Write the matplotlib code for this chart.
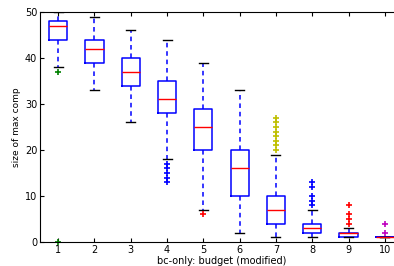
import matplotlib
matplotlib.use("Agg")
import matplotlib.pyplot as plt

budgets = [1, 2, 3, 4, 5, 6, 7, 8, 9, 10]
medians = [47, 42, 37, 31, 25, 16, 7, 3, 2, 1]
q1 = [44, 39, 34, 28, 20, 10, 4, 2, 1, 1]
q3 = [48, 44, 40, 35, 29, 20, 10, 4, 2, 1]
whis_lo = [38, 33, 26, 18, 7, 2, 1, 1, 1, 1]
whis_hi = [50, 49, 46, 44, 39, 33, 19, 7, 3, 1]
fliers = [
    [37, 0],
    [],
    [],
    [17, 16, 15, 14, 13],
    [6],
    [],
    [20, 21, 22, 23, 24, 25, 26, 27],
    [8, 9, 10, 12, 13],
    [4, 5, 6, 8],
    [2, 4],
]
flier_colors = ["g", "b", "b", "b", "r", "b", "y", "b", "r", "m"]

stats = []
for i in range(len(budgets)):
    stats.append({
        "med": medians[i], "q1": q1[i], "q3": q3[i],
        "whislo": whis_lo[i], "whishi": whis_hi[i],
        "fliers": fliers[i], "label": str(budgets[i]),
    })

fig = plt.figure(figsize=(3.94, 2.66), dpi=100)
ax = fig.add_axes([40 / 394, 24 / 266, 363 / 394, 230 / 266])

bp = ax.bxp(
    stats, positions=budgets, widths=0.5,
    boxprops=dict(color="blue", linewidth=1.1),
    medianprops=dict(color="red", linewidth=1.0),
    whiskerprops=dict(color="blue", linewidth=1.1, linestyle=(0, (3, 2.5))),
    capprops=dict(color="black", linewidth=1.0),
    flierprops=dict(marker="+", markersize=4, markeredgewidth=1.2, linestyle="none"),
)
for line, c in zip(bp["fliers"], flier_colors):
    line.set_markeredgecolor(c)
    line.set_clip_on(False)

ax.set_xlim(0.5, 10.5)
ax.set_ylim(0, 50)
ax.set_yticks([0, 10, 20, 30, 40, 50])
ax.tick_params(direction="in", top=True, right=True, labelsize=7, length=3, pad=2)
ax.set_xlabel("bc-only: budget (modified)", fontsize=7, labelpad=1)
ax.set_ylabel("size of max comp", fontsize=6.5, labelpad=3)

fig.savefig("out.png", dpi=100)
